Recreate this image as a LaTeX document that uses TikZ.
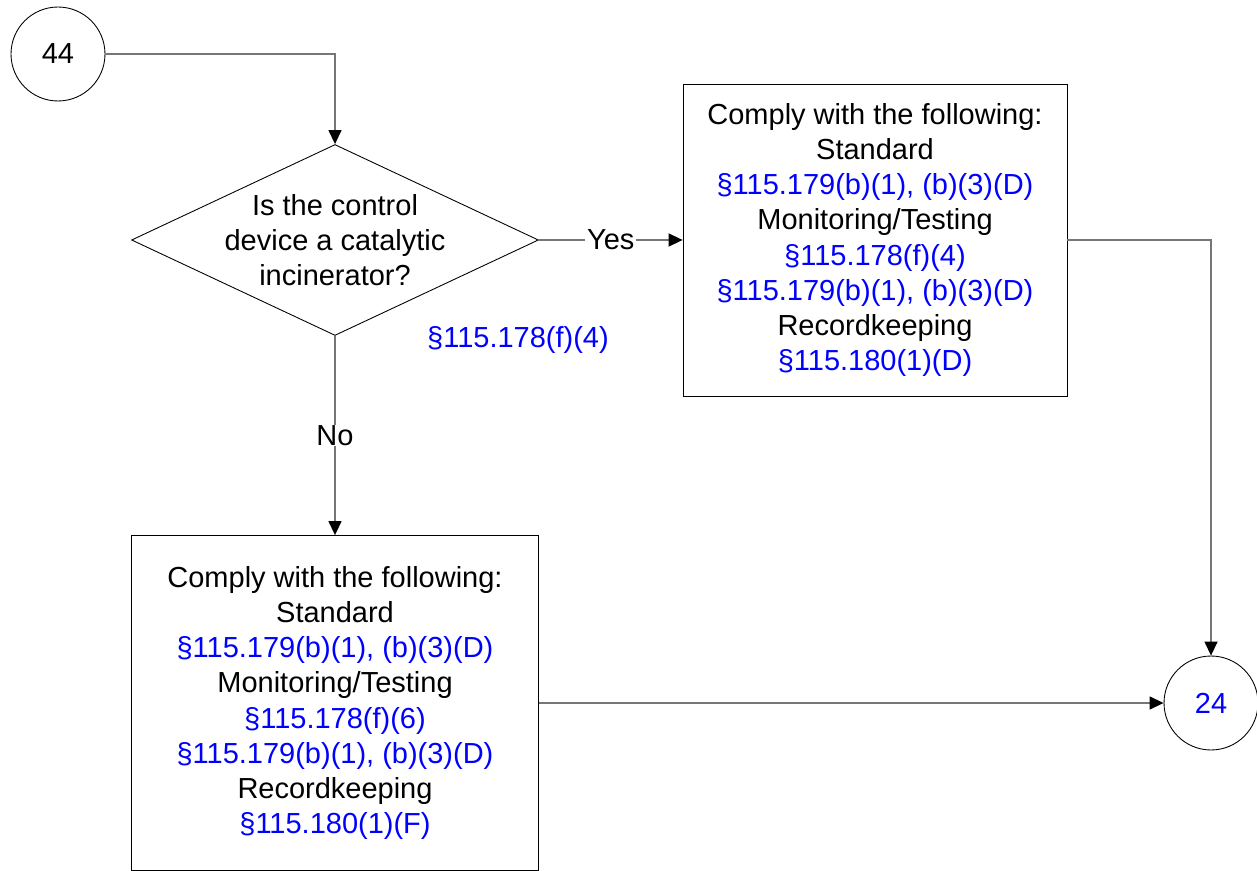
\documentclass[tikz,border=0pt]{standalone}
\usepackage{fontspec}
\setmainfont{Liberation Sans}
\usetikzlibrary{arrows.meta,shapes.geometric}
\definecolor{refblue}{RGB}{0, 0, 255}
\definecolor{linegray}{RGB}{118, 118, 118}
\tikzset{
    flowtext/.style={font=\fontsize{16.5}{20}\selectfont, align=center, inner sep=0pt},
    connector/.style={draw=linegray, line width=0.8pt, -{Triangle[length=0.28cm, width=0.26cm, color=black]}},
    offpage/.style={flowtext, circle, draw=black, line width=0.5pt, minimum size=1.88cm},
    decision/.style={diamond, draw=black, line width=0.5pt, inner sep=0pt, minimum width=8.14cm, minimum height=3.82cm},
    taskbox/.style={flowtext, rectangle, draw=black, line width=0.5pt},
    branch/.style={flowtext, fill=white, inner xsep=1pt}
}
\begin{document}
\begin{tikzpicture}[x=0.02cm, y=-0.02cm]
            \useasboundingbox                                             (0, 0) rectangle (1257, 871);
            \node[offpage]                                      (n44)     at (  58,  54) {44};
            \node[decision]                                     (q)       at ( 335, 240) {};
            \node[flowtext]                                     (qtext)   at ( 335, 240) {Is the control\\device a catalytic\\incinerator?};
            \node[flowtext, text=refblue]                       (qref)    at ( 518, 340) {§115.178(f)(4)};
            \node[taskbox, minimum width=7.68cm, minimum height=6.24cm] (yesbox) at ( 875, 240)
                 {Comply with the following:\\Standard\\\textcolor{refblue}{§115.179(b)(1), (b)(3)(D)}\\Monitoring/Testing\\
                  \textcolor{refblue}{§115.178(f)(4)}\\\textcolor{refblue}{§115.179(b)(1), (b)(3)(D)}\\Recordkeeping\\\textcolor{refblue}{§115.180(1)(D)}};
            \node[taskbox, minimum width=8.14cm, minimum height=6.70cm] (nobox)  at ( 335, 703)
                 {Comply with the following:\\Standard\\\textcolor{refblue}{§115.179(b)(1), (b)(3)(D)}\\Monitoring/Testing\\
                  \textcolor{refblue}{§115.178(f)(6)}\\\textcolor{refblue}{§115.179(b)(1), (b)(3)(D)}\\Recordkeeping\\\textcolor{refblue}{§115.180(1)(F)}};
            \node[offpage, text=refblue]                        (n24)     at (1211, 703) {24};
            % connectors
            \draw[connector] (n44.east)    -| (q.north);
            \draw[connector] (q.east)      -- node[branch] {Yes} (yesbox.west);
            \draw[connector] (q.south)     -- node[branch] {No}  (nobox.north);
            \draw[connector] (yesbox.east) -| (n24.north);
            \draw[connector] (nobox.east)  -- (n24.west);
\end{tikzpicture}
\end{document}
